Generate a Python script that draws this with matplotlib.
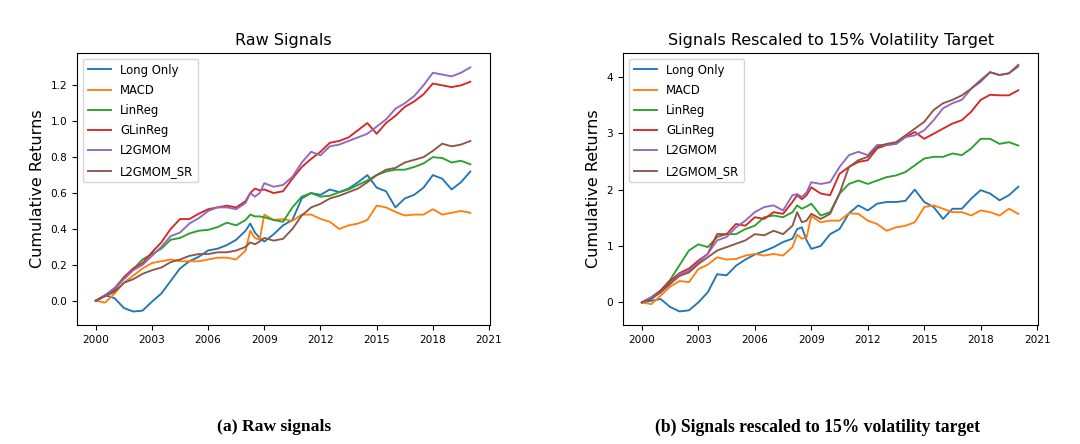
import matplotlib
matplotlib.use("Agg")
import matplotlib.pyplot as plt

# time axis shared by both panels (years)
anios = [2000, 2000.5, 2001, 2001.5, 2002, 2002.5, 2003, 2003.5, 2004, 2004.5,
         2005, 2005.5, 2006, 2006.5, 2007, 2007.5, 2008, 2008.25, 2008.5, 2008.75,
         2009, 2009.5, 2010, 2010.5, 2011, 2011.5, 2012, 2012.5, 2013, 2013.5,
         2014, 2014.5, 2015, 2015.5, 2016, 2016.5, 2017, 2017.5, 2018, 2018.5,
         2019, 2019.5, 2020]

nombres = ["Long Only", "MACD", "LinReg", "GLinReg", "L2GMOM", "L2GMOM_SR"]

# panel (a): raw signals
raw_long = [0.00, 0.03, 0.015, -0.04, -0.06, -0.055, -0.005, 0.04, 0.11, 0.18,
            0.22, 0.245, 0.28, 0.29, 0.31, 0.34, 0.39, 0.43, 0.38, 0.35,
            0.33, 0.37, 0.42, 0.45, 0.57, 0.60, 0.59, 0.62, 0.605, 0.625,
            0.66, 0.70, 0.63, 0.61, 0.52, 0.57, 0.59, 0.63, 0.70, 0.68,
            0.62, 0.66, 0.72]
raw_macd = [0.00, -0.01, 0.04, 0.10, 0.14, 0.18, 0.21, 0.22, 0.23, 0.22,
            0.22, 0.22, 0.23, 0.24, 0.24, 0.23, 0.28, 0.39, 0.35, 0.34,
            0.48, 0.45, 0.455, 0.445, 0.48, 0.48, 0.456, 0.44, 0.40, 0.42,
            0.43, 0.45, 0.53, 0.52, 0.495, 0.475, 0.48, 0.48, 0.51, 0.48,
            0.49, 0.50, 0.49]
raw_linreg = [0.00, 0.03, 0.07, 0.13, 0.175, 0.23, 0.26, 0.29, 0.34, 0.35,
              0.375, 0.39, 0.395, 0.41, 0.435, 0.42, 0.45, 0.48, 0.47, 0.47,
              0.465, 0.45, 0.44, 0.52, 0.58, 0.60, 0.58, 0.585, 0.605, 0.62,
              0.645, 0.67, 0.70, 0.72, 0.73, 0.73, 0.745, 0.765, 0.80, 0.795,
              0.77, 0.78, 0.76]
raw_glinreg = [0.00, 0.03, 0.06, 0.13, 0.18, 0.21, 0.27, 0.325, 0.40, 0.455,
               0.455, 0.485, 0.51, 0.52, 0.53, 0.52, 0.555, 0.60, 0.625, 0.615,
               0.62, 0.60, 0.61, 0.68, 0.745, 0.79, 0.83, 0.88, 0.89, 0.91,
               0.95, 0.99, 0.93, 0.99, 1.03, 1.08, 1.11, 1.15, 1.21, 1.20,
               1.19, 1.20, 1.22]
raw_l2gmom = [0.00, 0.03, 0.07, 0.12, 0.17, 0.20, 0.25, 0.30, 0.36, 0.38,
              0.43, 0.46, 0.50, 0.52, 0.52, 0.51, 0.545, 0.60, 0.58, 0.60,
              0.655, 0.635, 0.645, 0.69, 0.77, 0.83, 0.81, 0.86, 0.87, 0.89,
              0.91, 0.93, 0.97, 1.01, 1.07, 1.10, 1.14, 1.20, 1.27, 1.26,
              1.25, 1.27, 1.30]
raw_l2gmom_sr = [0.00, 0.025, 0.05, 0.10, 0.12, 0.15, 0.17, 0.185, 0.215, 0.23,
                 0.25, 0.26, 0.26, 0.27, 0.27, 0.28, 0.30, 0.325, 0.315, 0.33,
                 0.35, 0.335, 0.345, 0.40, 0.475, 0.52, 0.54, 0.57, 0.585, 0.605,
                 0.625, 0.66, 0.70, 0.73, 0.74, 0.77, 0.785, 0.80, 0.835, 0.875,
                 0.86, 0.87, 0.89]

# panel (b): signals rescaled to 15% volatility target
vol_long = [0.00, 0.03, 0.06, -0.08, -0.16, -0.14, 0.00, 0.18, 0.50, 0.48,
            0.65, 0.76, 0.85, 0.91, 0.98, 1.07, 1.13, 1.30, 1.33, 1.10,
            0.95, 1.00, 1.21, 1.30, 1.58, 1.72, 1.63, 1.75, 1.78, 1.78,
            1.80, 2.00, 1.78, 1.69, 1.48, 1.66, 1.66, 1.84, 1.99, 1.93,
            1.81, 1.90, 2.05]
vol_macd = [0.00, -0.03, 0.12, 0.28, 0.38, 0.36, 0.59, 0.67, 0.80, 0.76,
            0.77, 0.83, 0.86, 0.83, 0.86, 0.83, 0.98, 1.20, 1.13, 1.15,
            1.53, 1.42, 1.45, 1.45, 1.58, 1.57, 1.45, 1.39, 1.27, 1.33,
            1.36, 1.42, 1.69, 1.72, 1.66, 1.60, 1.60, 1.54, 1.63, 1.60,
            1.54, 1.66, 1.57]
vol_linreg = [0.00, 0.09, 0.21, 0.40, 0.66, 0.92, 1.03, 0.98, 1.16, 1.21,
              1.21, 1.30, 1.36, 1.51, 1.54, 1.51, 1.60, 1.72, 1.66, 1.70,
              1.75, 1.54, 1.60, 1.93, 2.10, 2.16, 2.10, 2.16, 2.22, 2.25,
              2.31, 2.43, 2.55, 2.58, 2.58, 2.64, 2.61, 2.73, 2.90, 2.90,
              2.81, 2.84, 2.78]
vol_glinreg = [0.00, 0.09, 0.21, 0.38, 0.52, 0.60, 0.74, 0.86, 1.21, 1.21,
               1.39, 1.36, 1.51, 1.48, 1.60, 1.57, 1.78, 1.90, 1.83, 1.90,
               2.04, 1.93, 1.90, 2.28, 2.40, 2.49, 2.52, 2.73, 2.79, 2.81,
               2.93, 3.02, 2.90, 2.99, 3.08, 3.17, 3.23, 3.38, 3.59, 3.68,
               3.67, 3.67, 3.76]
vol_l2gmom = [0.00, 0.09, 0.18, 0.33, 0.50, 0.56, 0.71, 0.86, 1.10, 1.16,
              1.33, 1.45, 1.60, 1.69, 1.72, 1.63, 1.90, 1.92, 1.87, 1.95,
              2.13, 2.10, 2.13, 2.40, 2.61, 2.67, 2.61, 2.79, 2.79, 2.81,
              2.93, 2.96, 3.05, 3.23, 3.44, 3.53, 3.59, 3.79, 3.91, 4.08,
              4.03, 4.06, 4.18]
vol_l2gmom_sr = [0.00, 0.06, 0.18, 0.33, 0.47, 0.53, 0.68, 0.80, 0.92, 0.98,
                 1.04, 1.10, 1.21, 1.19, 1.27, 1.21, 1.36, 1.60, 1.42, 1.45,
                 1.57, 1.48, 1.57, 1.93, 2.40, 2.52, 2.58, 2.76, 2.81, 2.84,
                 2.96, 3.08, 3.20, 3.41, 3.53, 3.59, 3.67, 3.79, 3.94, 4.08,
                 4.03, 4.06, 4.21]

colores = ["#1f77b4", "#ff7f0e", "#2ca02c", "#d62728", "#9467bd", "#8c564b"]

fig = plt.figure(figsize=(10.8, 4.44), dpi=100)
ax1 = fig.add_axes([0.0713, 0.268, 0.3824, 0.6126])
ax2 = fig.add_axes([0.5769, 0.268, 0.3843, 0.6126])

paneles = [
    (ax1, "Raw Signals",
     [raw_long, raw_macd, raw_linreg, raw_glinreg, raw_l2gmom, raw_l2gmom_sr]),
    (ax2, "Signals Rescaled to 15% Volatility Target",
     [vol_long, vol_macd, vol_linreg, vol_glinreg, vol_l2gmom, vol_l2gmom_sr]),
]

for ax, titulo, series in paneles:
    for nombre, valores, color in zip(nombres, series, colores):
        ax.plot(anios, valores, label=nombre, color=color, lw=1.35)
    ax.set_title(titulo, fontsize=11.5)
    ax.set_ylabel("Cumulative Returns", fontsize=11.5)
    ax.set_xticks([2000, 2003, 2006, 2009, 2012, 2015, 2018, 2021])
    ax.tick_params(labelsize=7.6)
    ax.legend(loc="upper left", fontsize=8.4, labelspacing=0.62)

ax1.set_xlim(1999, 2021.05)
ax2.set_xlim(1999, 2021.05)
ax1.set_ylim(-0.135, 1.38)
ax1.set_yticks([0.0, 0.2, 0.4, 0.6, 0.8, 1.0, 1.2])
ax2.set_ylim(-0.40, 4.42)
ax2.set_yticks([0, 1, 2, 3, 4])

fig.text(0.254, 1 - 427 / 444, "(a) Raw signals", ha="center", va="center",
         fontsize=12.6, fontweight="bold", family="Liberation Serif")
fig.text(0.757, 1 - 427 / 444, "(b) Signals rescaled to 15% volatility target",
         ha="center", va="center", fontsize=12.7, fontweight="bold",
         family="Liberation Serif")

plt.savefig("out.png", dpi=100)
